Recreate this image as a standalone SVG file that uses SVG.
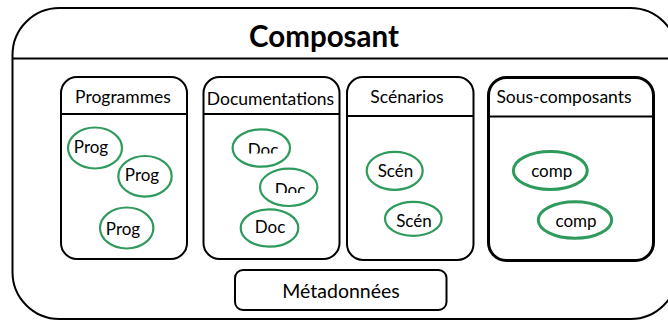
<svg xmlns="http://www.w3.org/2000/svg" width="668" height="320" viewBox="0 0 668 320">
<style>
.box{fill:#fff;stroke:#000;stroke-width:2}
.thick{stroke-width:3}
.div{stroke:#000;stroke-width:2}
.ell{fill:#fff;stroke:#2E9B5C;stroke-width:2.2}
.ell3{stroke-width:3}
.t{font-family:Lato,"Open Sans",sans-serif;fill:#000;text-anchor:middle}
.h{font-size:17.5px}
.e{font-size:17px}
</style>
<defs>
<clipPath id="c1"><rect x="240" y="120" width="60" height="33.5"/></clipPath>
<clipPath id="c2"><rect x="265" y="160" width="60" height="33"/></clipPath>
</defs>
<g id="composant">
<rect class="box" x="12.5" y="8" width="665" height="311" rx="47"/>
<line class="div" x1="12.5" y1="58.5" x2="668" y2="58.5"/>
<text class="t" x="324" y="47" style="font-size:29.5px;font-weight:bold">Composant</text>
</g>
<g id="programmes">
<rect class="box" x="61" y="77" width="126" height="182" rx="16"/>
<line class="div" x1="61" y1="114" x2="187" y2="114"/>
<text class="t h" x="123" y="103">Programmes</text>
</g>
<g id="prog1"><ellipse class="ell" cx="95" cy="148" rx="27" ry="20.5"/><text class="t e" x="91" y="153">Prog</text></g>
<g id="prog2"><ellipse class="ell" cx="145" cy="176.3" rx="26.7" ry="20.3"/><text class="t e" x="142" y="181">Prog</text></g>
<g id="prog3"><ellipse class="ell" cx="126.7" cy="228" rx="26.7" ry="20.5"/><text class="t e" x="123" y="235">Prog</text></g>
<g id="documentations">
<rect class="box" x="203.5" y="77" width="136" height="182" rx="16"/>
<line class="div" x1="203.5" y1="114" x2="339.5" y2="114"/>
<text class="t h" x="270.5" y="105">Documentations</text>
</g>
<g id="doc1"><ellipse class="ell" cx="261.3" cy="148" rx="28.7" ry="18.7"/><text class="t e" x="263" y="156" clip-path="url(#c1)">Doc</text></g>
<g id="doc2"><ellipse class="ell" cx="288.7" cy="187.3" rx="28.7" ry="18.7"/><text class="t e" x="290" y="195.5" clip-path="url(#c2)">Doc</text></g>
<g id="doc3"><ellipse class="ell" cx="269.5" cy="228" rx="28.8" ry="18.7"/><text class="t e" x="270" y="233">Doc</text></g>
<g id="scenarios">
<rect class="box" x="347" y="77" width="126.5" height="183" rx="16"/>
<line class="div" x1="347" y1="116" x2="473.5" y2="116"/>
<text class="t h" x="407" y="103">Scénarios</text>
</g>
<g id="scen1"><ellipse class="ell" cx="394.7" cy="170.8" rx="28" ry="19"/><text class="t e" x="395.5" y="176.7">Scén</text></g>
<g id="scen2"><ellipse class="ell" cx="413.3" cy="218.8" rx="28.3" ry="17"/><text class="t e" x="414" y="226.7">Scén</text></g>
<g id="sous-composants">
<rect class="box thick" x="488.5" y="77.5" width="165" height="183" rx="18"/>
<line class="div thick" x1="488.5" y1="116.5" x2="653.5" y2="116.5"/>
<text class="t h" x="564" y="103">Sous-composants</text>
</g>
<g id="comp1"><ellipse class="ell ell3" cx="550.3" cy="170.5" rx="37" ry="19"/><text class="t e" x="551.7" y="176.7">comp</text></g>
<g id="comp2"><ellipse class="ell ell3" cx="575" cy="220" rx="36.7" ry="18.3"/><text class="t e" x="576" y="227.3">comp</text></g>
<g id="metadonnees">
<rect class="box" x="235" y="270" width="211.5" height="40" rx="8"/>
<text class="t" x="341" y="298.3" style="font-size:19.5px">Métadonnées</text>
</g>
<g id="connectors"></g>
</svg>
